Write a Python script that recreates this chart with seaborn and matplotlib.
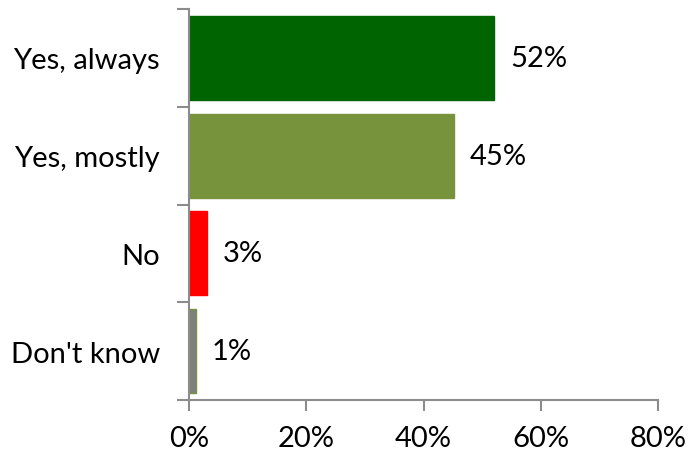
import matplotlib
matplotlib.use("Agg")
import matplotlib.pyplot as plt
import seaborn as sns
import pandas as pd

categories = ["Yes, always", "Yes, mostly", "No", "Don't know"]
values = [52.1, 45.2, 3.1, 1.2]
labels = ["52%", "45%", "3%", "1%"]
colors = ["#006400", "#77933C", "#FF0000", "#7F7F7F"]
edges = ["#006400", "#77933C", "#FF0000", "#77933C"]
xticks = [0, 20, 40, 60, 80]
xticklabels = ["0%", "20%", "40%", "60%", "80%"]

sns.set_theme(style="white")
plt.rcParams['font.family'] = ['Lato', 'DejaVu Sans']

df = pd.DataFrame({"cat": categories, "val": values})

fig = plt.figure(figsize=(6.88, 4.56), dpi=100)
ax = fig.add_axes([189/688, 1-401/456, (658-189)/688, (401-10)/456])
sns.barplot(data=df, x="val", y="cat", hue="cat", palette=colors, order=categories,
            width=0.86, legend=False, ax=ax, saturation=1)
for p, ec in zip(ax.patches, edges):
    p.set_edgecolor(ec)
    p.set_linewidth(1)

ax.set_xlim(0, 80)
ax.set_ylim(3.5, -0.5)
ax.set_xticks(xticks)
ax.set_xticklabels(xticklabels)
ax.set_xlabel("")
ax.set_ylabel("")
ax.set_yticks([0, 1, 2, 3])
ax.set_yticklabels(categories)
ax.set_yticks([-0.5, 0.5, 1.5, 2.5, 3.5], minor=True)
ax.tick_params(axis="y", which="major", length=0, pad=21, labelsize=21, colors="black")
ax.tick_params(axis="y", which="minor", length=9, width=1.5, color="#8C8C8C", left=True)
ax.tick_params(axis="x", length=8, width=1.5, color="#8C8C8C", pad=10, labelsize=21, bottom=True, colors="black")
ax.tick_params(axis="x", color="#8C8C8C")
for s in ["top", "right"]:
    ax.spines[s].set_visible(False)
for s in ["left", "bottom"]:
    ax.spines[s].set_color("#8C8C8C")
    ax.spines[s].set_linewidth(1.5)

for i, (v, lab) in enumerate(zip(values, labels)):
    ax.text(v + 2.7, i, lab, va="center", ha="left", fontsize=21, color="black")

fig.savefig("out.png", dpi=100)
